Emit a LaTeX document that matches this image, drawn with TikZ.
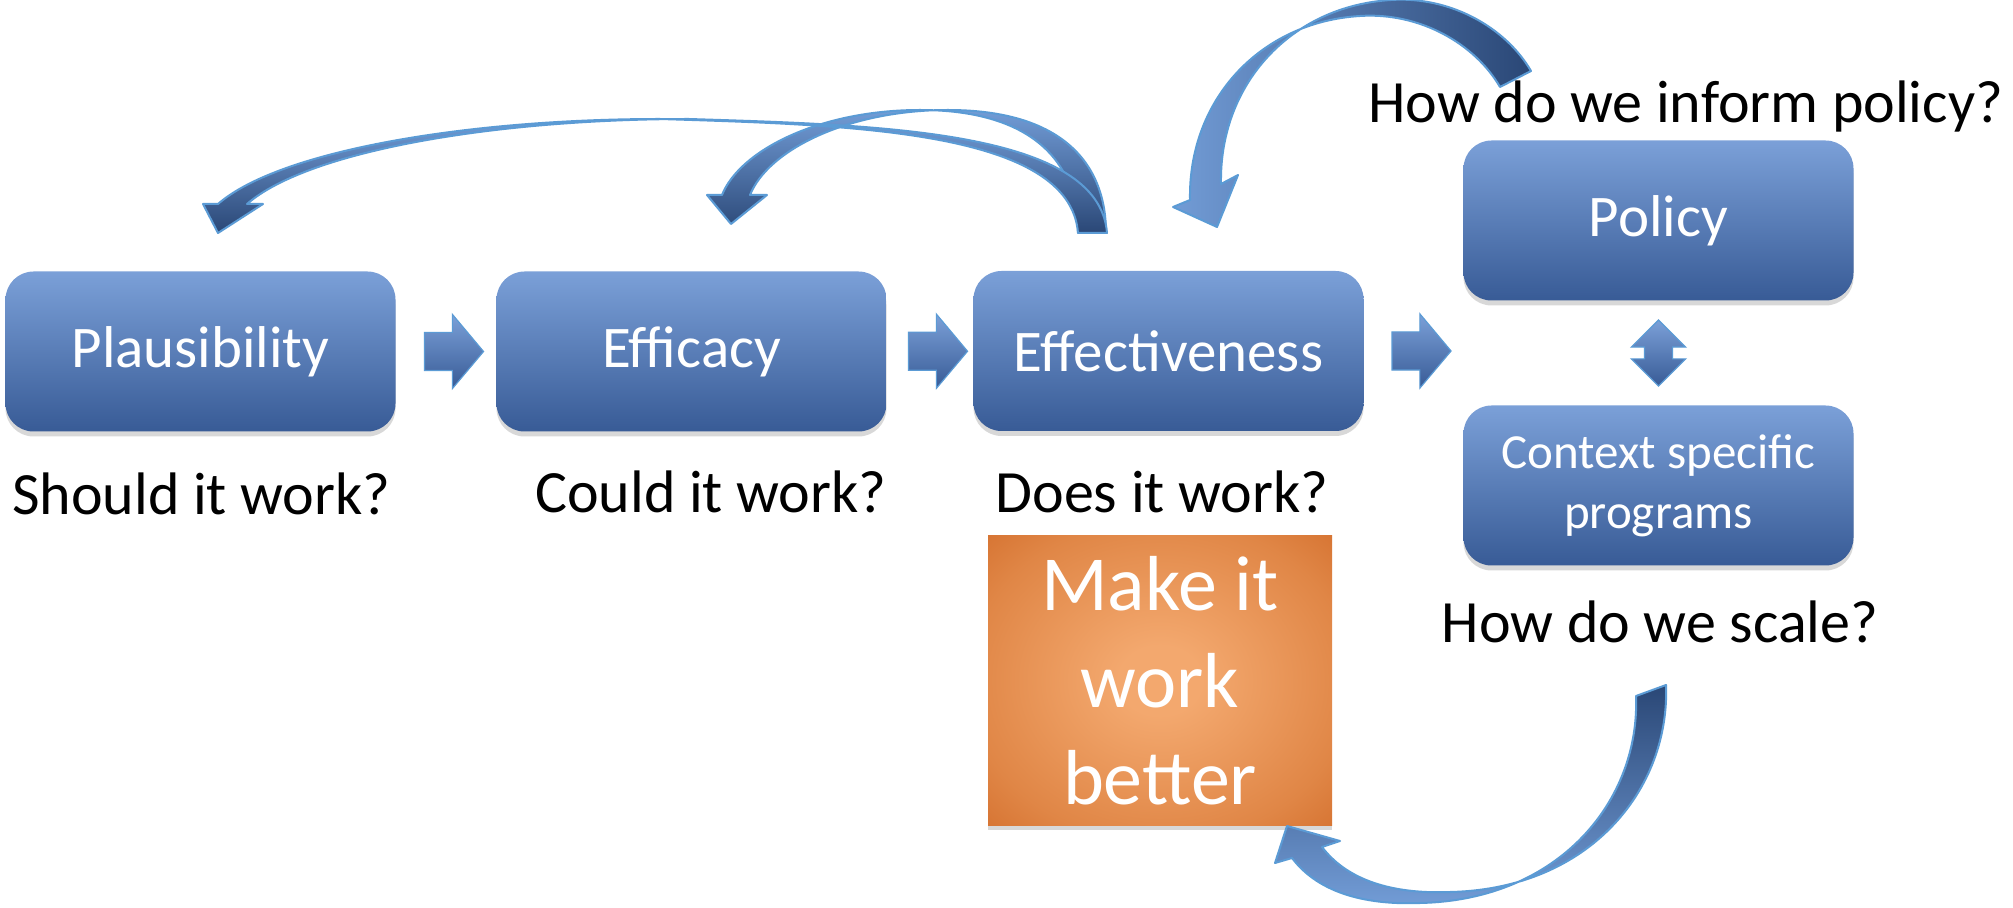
\documentclass[tikz,border=0pt]{standalone}
\usepackage{fontspec}
\setmainfont{Carlito}
\usetikzlibrary{shapes.arrows,shadows,calc}

\definecolor{boxtop}{RGB}{123,160,216}
\definecolor{boxbot}{RGB}{56,91,150}
\definecolor{arrlight}{RGB}{114,156,214}
\definecolor{arrdark}{RGB}{42,71,118}
\definecolor{arredge}{RGB}{91,155,213}
\definecolor{orin}{RGB}{243,168,110}
\definecolor{ormid}{RGB}{224,134,70}
\definecolor{oredge}{RGB}{212,112,46}
\definecolor{orout}{RGB}{198,94,24}

\pgfdeclareradialshading{betterglow}{\pgfpoint{0bp}{0bp}}{color(0bp)=(orin); color(6bp)=(orin); color(28bp)=(ormid); color(38bp)=(oredge); color(50bp)=(orout)}

\tikzset{
  stagebox/.style={rectangle, rounded corners=14pt, minimum width=195pt, minimum height=80pt,
    top color=boxtop, bottom color=boxbot, text=white, font=\fontsize{29.5}{35}\selectfont,
    drop shadow={opacity=0.3, shadow xshift=0pt, shadow yshift=-2.5pt}},
  betterbox/.style={rectangle, minimum width=172pt, minimum height=144.5pt, shade, shading=betterglow,
    text=white, font=\fontsize{39}{48.5}\selectfont, align=center,
    drop shadow={opacity=0.3, shadow xshift=0pt, shadow yshift=-2.5pt}},
  question/.style={font=\fontsize{30}{36}\selectfont, anchor=base, inner sep=0pt},
  blockarrow/.style={single arrow, draw=arredge, line width=0.6pt, top color=boxtop, bottom color=boxbot,
    minimum height=29.5pt, inner xsep=0pt, inner ysep=9.25pt, single arrow head extend=9pt,
    single arrow tip angle=100},
  twowayarrow/.style={double arrow, shape border rotate=90, draw=arredge, line width=0.6pt,
    top color=boxtop, bottom color=boxbot, minimum height=33pt, inner sep=6.75pt,
    double arrow head extend=6.5pt, double arrow tip angle=90},
  ribbon/.style={draw=arredge, line width=1pt, line join=round}
}

\begin{document}
\begin{tikzpicture}[x=0.5pt, y=-0.5pt]
  \useasboundingbox (0,0) rectangle (2013,908);
  \fill[white] (0,0) rectangle (2013,908);

  \node[stagebox] (plaus) at (200.5,351.5) {Plausibility};
  \node[stagebox] (effic) at (691.5,351.5) {Efficacy};
  \node[stagebox] (effect) at (1168.5,351) {Effectiveness};
  \node[stagebox] (policy) at (1658.5,220.5) {Policy};
  \node[stagebox, font=\fontsize{24.5}{30}\selectfont, align=center] (context) at (1658.5,485.5) {Context specific\\programs};
  \node[betterbox] (better) at (1160,680.5) {Make it\\work\\better};

  \node[blockarrow] (s1) at ($(plaus.east)!0.5!(effic.west)$) {};
  \node[blockarrow] (s2) at ($(effic.east)!0.5!(effect.west)$) {};
  \node[blockarrow] (s3) at ($(effect.east)!0.5!(effect.east -| policy.west)$) {};
  \node[twowayarrow] (s4) at ($(policy.south)!0.5!(context.north)$) {};

  \node[question] (q1) at (201.5,515) {Should it work?};
  \node[question] (q2) at (711,513) {Could it work?};
  \node[question] (q3) at (1162,513) {Does it work?};
  \node[question, anchor=base west] (q4) at (1368,123) {How do we inform policy?};
  \node[question] (q5) at (1660,642) {How do we scale?};

  % back to efficacy
  \shadedraw[ribbon, top color=arrlight, bottom color=arrdark]
    (722,195) .. controls (740,150) and (820,110) .. (920,110)
    .. controls (1030,110) and (1078,160) .. (1078,233) -- (1106,233)
    .. controls (1106,160) and (1058,110) .. (948,110)
    .. controls (848,110) and (768,150) .. (750,195)
    -- (767,195) -- (731,224) -- (707,195) -- cycle;
  % back to plausibility
  \shadedraw[ribbon, top color=arrlight, bottom color=arrdark]
    (218,204) .. controls (280,150) and (470,119) .. (660,119)
    .. controls (850,125) and (1070,130) .. (1078,233) -- (1107,233)
    .. controls (1099,130) and (879,125) .. (689,119)
    .. controls (499,119) and (309,150) .. (247,204)
    -- (263,204) -- (218,233) -- (203,204) -- cycle;
  % policy back to effectiveness
  \shadedraw[ribbon, left color=arrlight, right color=arrdark]
    (1190,200) .. controls (1188,100) and (1260,22) .. (1360,16)
    .. controls (1420,12) and (1475,44) .. (1500,87) -- (1531,71)
    .. controls (1506,28) and (1451,-4) .. (1391,0)
    .. controls (1291,6) and (1219,84) .. (1221,184)
    -- (1238,175) -- (1217,227) -- (1173,207) -- cycle;
  % scale back to make it work better
  \shadedraw[ribbon, top color=arrdark, bottom color=arrlight]
    (1292,858) .. controls (1320,895) and (1370,905) .. (1420,903)
    .. controls (1560,900) and (1640,800) .. (1636,696) -- (1666,685)
    .. controls (1670,789) and (1590,889) .. (1450,892)
    .. controls (1400,894) and (1350,884) .. (1322,847)
    -- (1340,841) -- (1287,826) -- (1275,863) -- cycle;
\end{tikzpicture}
\end{document}
